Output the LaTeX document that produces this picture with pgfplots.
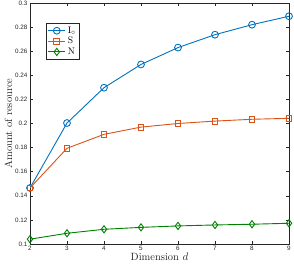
\documentclass[border=0pt]{standalone}
\usepackage{fontspec}
\newfontfamily\ticksf{Liberation Sans}
\usepackage{pgfplots}
\pgfplotsset{compat=1.18}
\usetikzlibrary{calc}
\definecolor{mblue}{rgb}{0,0.447,0.741}
\definecolor{mred}{rgb}{0.85,0.325,0.098}
\definecolor{mgreen}{rgb}{0,0.5,0}
\definecolor{axgray}{rgb}{0.15,0.15,0.15}
\begin{document}
\begin{tikzpicture}
\begin{axis}[
  scale only axis,
  width=259pt, height=241pt,
  xmin=2, xmax=9, ymin=0.1, ymax=0.3,
  xtick={2,3,4,5,6,7,8,9},
  ytick={0.1,0.12,0.14,0.16,0.18,0.2,0.22,0.24,0.26,0.28,0.3},
  yticklabel style={/pgf/number format/fixed,/pgf/number format/precision=2},
  /pgf/number format/assume math mode=true,
  tick label style={font=\ticksf\fontsize{6.3}{7}\selectfont, color=axgray},
  xticklabel style={yshift=1pt},
  yticklabel style={xshift=1pt},
  tick align=inside,
  major tick length=3pt,
  axis line style={axgray, line width=0.5pt},
  tick style={axgray, line width=0.5pt},
  xlabel={Dimension $d$},
  ylabel={Amount of resource},
  label style={font=\fontsize{10.5}{12}\selectfont, color=axgray},
  xlabel style={yshift=5pt},
  ylabel style={yshift=-4pt},
  legend style={at={(0.062,0.917)}, anchor=north west, draw=axgray, line width=0.5pt,
    font=\fontsize{9.5}{11}\selectfont, row sep=-1.5pt, inner sep=1.5pt},
  legend cell align=left,
  every axis plot/.append style={line width=0.9pt},
]
\coordinate (sw) at (rel axis cs:0,0);
\coordinate (ne) at (rel axis cs:1,1);
\addplot[mblue, mark=o, mark size=3.4pt] coordinates {
(2,0.1465) (3,0.2004) (4,0.2297) (5,0.2490) (6,0.2630) (7,0.2737) (8,0.2820) (9,0.2890)};
\addlegendentry{I$_\circ$}
\addplot[mred, mark=square, mark size=2.9pt] coordinates {
(2,0.1465) (3,0.1794) (4,0.1910) (5,0.1970) (6,0.2000) (7,0.2020) (8,0.2035) (9,0.2043)};
\addlegendentry{S}
\addplot[mgreen, mark=diamond, mark size=3.6pt] coordinates {
(2,0.1040) (3,0.1089) (4,0.1122) (5,0.1138) (6,0.1150) (7,0.1158) (8,0.1164) (9,0.1172)};
\addlegendentry{N}
\end{axis}
\pgfresetboundingbox
\path ($(sw)+(-30pt,-22pt)$) rectangle ($(ne)+(5pt,3pt)$);
\end{tikzpicture}
\end{document}
